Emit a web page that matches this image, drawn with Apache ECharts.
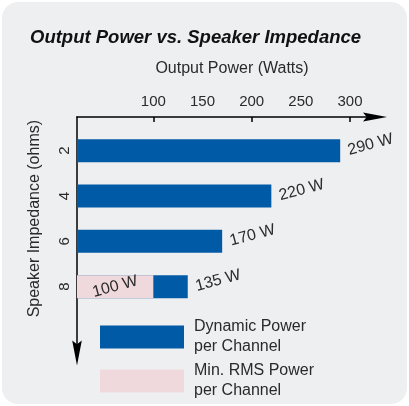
<!DOCTYPE html>
<html>
<head>
<meta charset="utf-8">
<script src="https://cdn.jsdelivr.net/npm/echarts@6/dist/echarts.min.js"></script>
<style>
  html, body { margin: 0; padding: 0; background: #fff; }
  #chart { width: 409px; height: 406px; }
</style>
</head>
<body>
<div id="chart"></div>
<script>
const impedances = ['2', '4', '6', '8']
const dynamicPower = [290, 220, 170, 135]
const rmsPower = [null, null, null, 100]
const powerLabels = [100, 150, 200, 250, 300]
const powerTicks = [100, 200, 300]

const blue = '#005aa6'
const pink = '#efd9dc'
const textColor = '#2a2a2a'
const arrow = 'path://M5,0L10,26L5,22L0,26Z'

// both grids share the same power scale
const powerMin = 22.4
const powerMax = 325.4

const chart = echarts.init(document.getElementById('chart'), null, {renderer: 'canvas'})

chart.setOption({
    animation: false,
    backgroundColor: '#fff',
    textStyle: {fontFamily: 'Liberation Sans'},
    graphic: [{
        type: 'rect',
        z: -10,
        silent: true,
        shape: {x: 2, y: 2, width: 405, height: 402, r: 16},
        style: {fill: '#eeeff1'}
    }],
    title: {
        text: 'Output Power vs. Speaker Impedance',
        left: 25,
        top: 23,
        textStyle: {fontSize: 18.5, fontWeight: 'bold', fontStyle: 'italic', color: '#111'}
    },
    legend: {
        orient: 'vertical',
        left: 100,
        top: 317,
        padding: 0,
        itemWidth: 84,
        itemHeight: 23,
        itemGap: 4,
        icon: 'rect',
        selectedMode: false,
        formatter: name => name.replace(' per', '\nper'),
        textStyle: {fontSize: 16, lineHeight: 20, color: textColor, padding: [0, 0, 0, 5]}
    },
    grid: [
        {left: 77, right: 34, top: 117, bottom: 53, outerBoundsMode: 'none'},
        {left: 77, right: 34, top: 128, height: 181.3, outerBoundsMode: 'none'}
    ],
    xAxis: [{
        gridIndex: 0,
        type: 'value',
        position: 'top',
        min: powerMin,
        max: powerMax,
        name: 'Output Power (Watts)',
        nameLocation: 'middle',
        nameGap: 40,
        nameTextStyle: {fontSize: 16, color: textColor, padding: [0, 0, 0, 12]},
        axisLine: {show: true, onZero: false, symbol: ['none', arrow], symbolSize: [14, 24],
            lineStyle: {color: '#000', width: 1.5}},
        axisTick: {show: true, inside: true, length: 5, customValues: powerTicks,
            lineStyle: {color: '#000', width: 1.5}},
        axisLabel: {fontSize: 15, color: textColor, margin: 8, customValues: powerLabels},
        splitLine: {show: false}
    }, {
        gridIndex: 1,
        type: 'value',
        min: powerMin,
        max: powerMax,
        show: false
    }],
    yAxis: [{
        gridIndex: 0,
        type: 'value',
        min: 0,
        max: 1,
        axisLine: {show: true, onZero: false, symbol: [arrow, 'none'], symbolSize: [15, 25],
            lineStyle: {color: '#000', width: 1.5}},
        axisTick: {show: false},
        axisLabel: {show: false},
        splitLine: {show: false}
    }, {
        gridIndex: 1,
        type: 'category',
        inverse: true,
        data: impedances,
        name: 'Speaker Impedance (ohms)',
        nameLocation: 'middle',
        nameGap: 34,
        nameTextStyle: {fontSize: 16, color: textColor},
        axisLine: {show: false},
        axisTick: {show: false},
        axisLabel: {rotate: 90, fontSize: 15, color: textColor, margin: 5}
    }],
    series: [{
        name: 'Dynamic Power per Channel',
        type: 'bar',
        xAxisIndex: 1,
        yAxisIndex: 1,
        data: dynamicPower,
        barWidth: 23,
        barGap: '-100%',
        itemStyle: {color: blue},
        label: {show: true, position: 'right', distance: 8, rotate: 15,
            formatter: '{c} W', fontSize: 16, color: textColor}
    }, {
        name: 'Min. RMS Power per Channel',
        type: 'bar',
        xAxisIndex: 1,
        yAxisIndex: 1,
        data: rmsPower,
        barWidth: 23,
        barGap: '-100%',
        itemStyle: {color: pink},
        label: {show: true, position: 'inside', rotate: 15,
            formatter: '{c} W', fontSize: 16, color: textColor}
    }]
})
</script>
</body>
</html>
